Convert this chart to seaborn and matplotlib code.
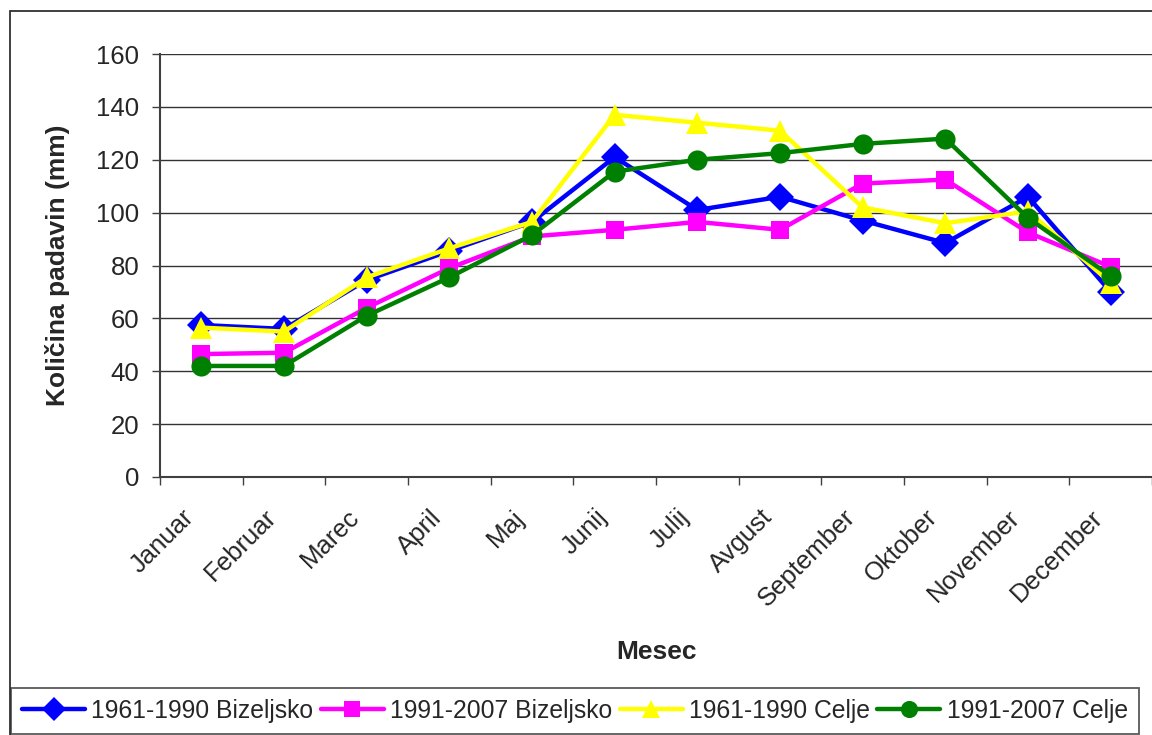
import matplotlib
matplotlib.use("Agg")
import matplotlib.pyplot as plt
import matplotlib.patches as mpatches
import matplotlib.transforms as mtransforms
from matplotlib.ticker import FixedLocator
import numpy as np
import pandas as pd
import seaborn as sns

# Monthly precipitation (mm)
months = ["Januar", "Februar", "Marec", "April", "Maj", "Junij", "Julij",
          "Avgust", "September", "Oktober", "November", "December"]
bizeljsko_1961_1990 = [57.5, 56, 74.5, 85.5, 96.5, 121, 101, 106, 97, 88.5, 106, 70]
bizeljsko_1991_2007 = [46.5, 47, 64, 79, 91, 93.5, 96.5, 93.5, 111, 112.5, 92.5, 79.5]
celje_1961_1990 = [56.5, 55, 75.5, 86.5, 96.5, 137, 134, 131, 102, 96, 100.5, 73.5]
celje_1991_2007 = [42, 42, 61, 75.5, 91.5, 115.5, 120, 122.5, 126, 128, 98, 76]
series_names = ["1961-1990 Bizeljsko", "1991-2007 Bizeljsko",
                "1961-1990 Celje", "1991-2007 Celje"]
y_ticks = [0, 20, 40, 60, 80, 100, 120, 140, 160]

sns.set_theme(style="white")
plt.rcParams["font.family"] = ["Liberation Sans", "DejaVu Sans"]

frames = []
for name, vals in zip(series_names, [bizeljsko_1961_1990, bizeljsko_1991_2007,
                                      celje_1961_1990, celje_1991_2007]):
    frames.append(pd.DataFrame({"pos": np.arange(len(months)), "val": vals,
                                "series": name}))
df = pd.concat(frames, ignore_index=True)

styles = {
    "1961-1990 Bizeljsko": dict(color="#0000FF", marker="D", ms=14),
    "1991-2007 Bizeljsko": dict(color="#FF00FF", marker="s", ms=13),
    "1961-1990 Celje": dict(color="#FFFF00", marker="^", ms=16),
    "1991-2007 Celje": dict(color="#008000", marker="o", ms=14.5),
}

fig = plt.figure(figsize=(11.52, 7.35), dpi=100)
ax = fig.add_axes([160 / 1152, 1 - 477 / 735, 992 / 1152, 423 / 735])

# outer chart frame
fig.patches.append(mpatches.Rectangle((10 / 1152, -0.1), 1.2, 1.1 - 11 / 735,
                                      transform=fig.transFigure, fill=False,
                                      edgecolor="#303030", linewidth=1.3,
                                      clip_on=False))

for name in series_names:
    st = styles[name]
    sns.lineplot(data=df[df["series"] == name], x="pos", y="val", ax=ax,
                 color=st["color"], marker=st["marker"], markersize=st["ms"],
                 markeredgewidth=0, linewidth=3.2, label=name, legend=False)

ax.set_xlim(-0.5, len(months) - 0.5)
ax.set_ylim(0, 160)
ax.yaxis.set_major_locator(FixedLocator(y_ticks))
ax.grid(axis="y", color="#333333", linewidth=1.0)
ax.set_axisbelow(True)

ax.set_xticks(np.arange(len(months)))
ax.xaxis.set_minor_locator(FixedLocator(np.arange(-0.5, len(months), 1.0)))
ax.tick_params(axis="x", which="major", length=0, pad=16)
ax.tick_params(axis="x", which="minor", length=6, width=1, color="#404040",
               direction="out", bottom=True)
ax.tick_params(axis="y", which="major", length=6, width=1, color="#404040",
               direction="out", left=True, labelsize=18.5, pad=9)
ax.set_xticklabels(months, rotation=45, ha="right", va="top",
                   rotation_mode="anchor", fontsize=18.5)
# nudge the slanted month names so they end just left of each category centre
shift = mtransforms.ScaledTranslation(-0.20, -0.06, fig.dpi_scale_trans)
for lbl in ax.get_xticklabels():
    lbl.set_transform(lbl.get_transform() + shift)

for side in ["top", "right"]:
    ax.spines[side].set_visible(False)
for side in ["left", "bottom"]:
    ax.spines[side].set_color("#404040")
    ax.spines[side].set_linewidth(1.5)

ax.set_xlabel("Mesec", fontsize=19, fontweight="bold")
ax.set_ylabel("Količina padavin (mm)", fontsize=19, fontweight="bold")
ax.xaxis.set_label_coords(497 / 992, (477 - 640) / 423)
ax.yaxis.set_label_coords((70 - 160) / 992, 0.5)

handles, labels = ax.get_legend_handles_labels()
leg = fig.legend(handles, labels, loc="upper left",
                 bbox_to_anchor=(11 / 1152, 1 - 688 / 735),
                 ncol=4, fontsize=17.8, frameon=True, fancybox=False,
                 edgecolor="#303030", handlelength=2.55, handletextpad=0.25,
                 columnspacing=0.3, borderaxespad=0, borderpad=0.45,
                 markerscale=0.85)
leg.get_frame().set_linewidth(1.3)

fig.savefig("out.png", dpi=100)
